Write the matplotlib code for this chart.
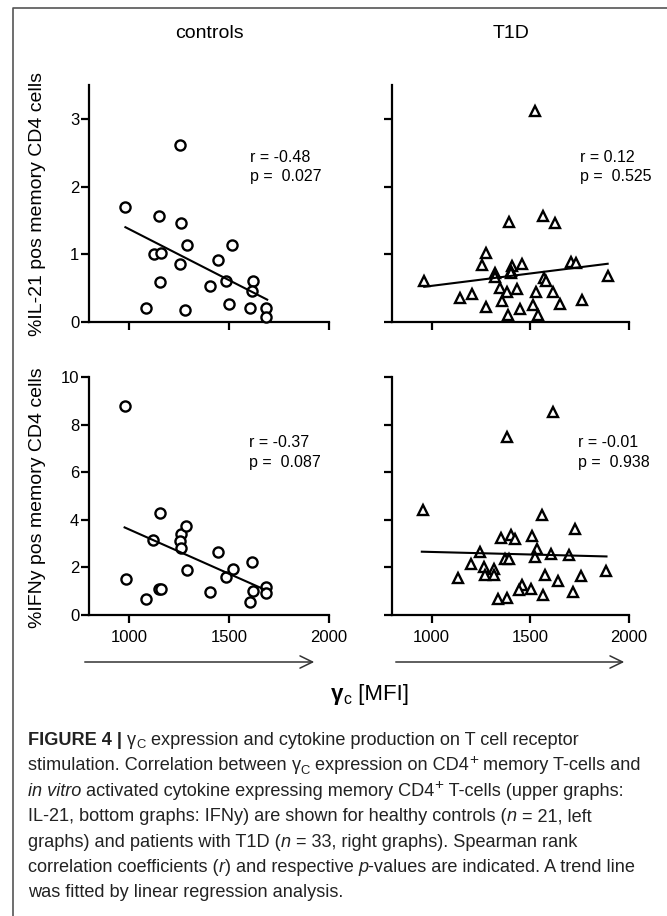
import matplotlib
matplotlib.use('Agg')
import matplotlib.pyplot as plt
from matplotlib import font_manager as fm
from matplotlib.font_manager import FontProperties
from matplotlib.lines import Line2D
from matplotlib.patches import FancyArrowPatch

# ---------------- data ----------------
col_titles = ["controls", "T1D"]
ylabels = ["%IL-21 pos memory CD4 cells", "%IFNy pos memory CD4 cells"]
xticks = [1000, 1500, 2000]
il21_yticks = [0, 1, 2, 3]
ifn_yticks = [0, 2, 4, 6, 8, 10]

ctrl_il21_x = [982, 1255, 1151, 1260, 1124, 1158, 1289, 1517, 1257, 1443, 1154,
               1404, 1485, 1621, 1616, 1087, 1282, 1498, 1604, 1686, 1686]
ctrl_il21_y = [1.70, 2.62, 1.57, 1.46, 1.00, 1.02, 1.13, 1.13, 0.86, 0.91, 0.59,
               0.53, 0.61, 0.61, 0.46, 0.20, 0.18, 0.26, 0.20, 0.21, 0.07]

t1d_il21_x = [1522, 963, 1391, 1567, 1623, 1278, 1254, 1320, 1323, 1407, 1401,
              1404, 1460, 1704, 1734, 1892, 1572, 1581, 1143, 1205, 1345, 1384,
              1431, 1530, 1614, 1274, 1359, 1650, 1764, 1387, 1449, 1515, 1539]
t1d_il21_y = [3.11, 0.60, 1.47, 1.56, 1.46, 1.02, 0.84, 0.72, 0.66, 0.82, 0.75,
              0.72, 0.85, 0.89, 0.87, 0.68, 0.65, 0.60, 0.35, 0.41, 0.50, 0.45,
              0.48, 0.45, 0.44, 0.22, 0.31, 0.27, 0.32, 0.11, 0.19, 0.25, 0.11]

ctrl_ifn_x = [982, 987, 1084, 1154, 1122, 1148, 1158, 1258, 1257, 1260, 1284,
              1290, 1403, 1443, 1483, 1519, 1617, 1621, 1606, 1686, 1686]
ctrl_ifn_y = [8.80, 1.52, 0.69, 4.27, 3.16, 1.10, 1.08, 3.41, 3.10, 2.80, 3.75,
              1.90, 0.95, 2.63, 1.58, 1.94, 2.24, 1.02, 0.53, 1.16, 0.91]

t1d_ifn_x = [1616, 1384, 958, 1557, 1727, 1350, 1402, 1421, 1510, 1536, 1246,
             1525, 1606, 1697, 1370, 1392, 1199, 1268, 1317, 1270, 1317, 1135,
             1573, 1643, 1758, 1882, 1456, 1445, 1505, 1564, 1714, 1337, 1381]
t1d_ifn_y = [8.53, 7.49, 4.40, 4.20, 3.61, 3.22, 3.36, 3.18, 3.32, 2.79, 2.63,
             2.44, 2.55, 2.53, 2.37, 2.37, 2.13, 2.03, 1.95, 1.69, 1.69, 1.54,
             1.68, 1.43, 1.64, 1.85, 1.27, 1.05, 1.08, 0.84, 0.98, 0.69, 0.73]

# trend line end points
ctrl_il21_trend_x = [982, 1691]
ctrl_il21_trend_y = [1.40, 0.33]
t1d_il21_trend_x = [963, 1892]
t1d_il21_trend_y = [0.52, 0.86]
ctrl_ifn_trend_x = [978, 1675]
ctrl_ifn_trend_y = [3.68, 1.08]
t1d_ifn_trend_x = [951, 1886]
t1d_ifn_trend_y = [2.66, 2.46]

r_values = ["-0.48", "0.12", "-0.37", "-0.01"]
p_values = ["0.027", "0.525", "0.087", "0.938"]

# ---------------- figure ----------------
W, H = 667, 916
fig = plt.figure(figsize=(W / 100, H / 100), dpi=100)
fig.patch.set_facecolor('white')
FONT = 'Liberation Sans'
plt.rcParams['font.family'] = [FONT, 'DejaVu Sans']

names = {f.name for f in fm.fontManager.ttflist}
CAP_FONT = 'Liberation Sans Narrow' if 'Liberation Sans Narrow' in names else FONT


def pos(l, t, r, b):
    return [l / W, 1 - b / H, (r - l) / W, (b - t) / H]


panels = [
    dict(rect=pos(89, 85, 329, 322), x=ctrl_il21_x, y=ctrl_il21_y, m='o',
         tx=ctrl_il21_trend_x, ty=ctrl_il21_trend_y, ylim=(0, 3.5), yt=il21_yticks,
         ylab=True, xlab=False, txt=(0.671, 0.696, 0.616), k=0),
    dict(rect=pos(392, 85, 629, 322), x=t1d_il21_x, y=t1d_il21_y, m='^',
         tx=t1d_il21_trend_x, ty=t1d_il21_trend_y, ylim=(0, 3.5), yt=il21_yticks,
         ylab=False, xlab=False, txt=(0.794, 0.696, 0.616), k=1),
    dict(rect=pos(89, 377, 329, 615), x=ctrl_ifn_x, y=ctrl_ifn_y, m='o',
         tx=ctrl_ifn_trend_x, ty=ctrl_ifn_trend_y, ylim=(0, 10), yt=ifn_yticks,
         ylab=True, xlab=True, txt=(0.667, 0.723, 0.639), k=2),
    dict(rect=pos(392, 377, 629, 615), x=t1d_ifn_x, y=t1d_ifn_y, m='^',
         tx=t1d_ifn_trend_x, ty=t1d_ifn_trend_y, ylim=(0, 10), yt=ifn_yticks,
         ylab=False, xlab=True, txt=(0.786, 0.723, 0.639), k=3),
]

for p in panels:
    ax = fig.add_axes(p['rect'])
    ax.set_facecolor('none')
    ms = 7.3 if p['m'] == 'o' else 7.0
    ax.plot(p['x'], p['y'], p['m'], ms=ms, mfc='white', mec='black', mew=1.7,
            clip_on=False, zorder=3)
    ax.plot(p['tx'], p['ty'], color='black', lw=1.5, zorder=4)
    ax.set_xlim(800, 2000)
    ax.set_ylim(*p['ylim'])
    ax.set_xticks(xticks)
    ax.set_yticks(p['yt'])
    for s in ['top', 'right']:
        ax.spines[s].set_visible(False)
    for s in ['left', 'bottom']:
        ax.spines[s].set_linewidth(1.6)
    ax.tick_params(axis='both', direction='out', length=5.5, width=1.6,
                   labelsize=12, colors='black')
    ax.tick_params(axis='y', pad=1.5)
    ax.tick_params(axis='x', pad=5)
    if not p['xlab']:
        ax.set_xticklabels([])
    if not p['ylab']:
        ax.set_yticklabels([])
    tx, ty_r, ty_p = p['txt']
    k = p['k']
    ax.text(tx, ty_r, "r = " + r_values[k], transform=ax.transAxes,
            fontsize=11.5, va='center', ha='left')
    ax.text(tx, ty_p, "p =  " + p_values[k], transform=ax.transAxes,
            fontsize=11.5, va='center', ha='left')

# y labels
fig.text(38 / W, 1 - 204 / H, ylabels[0], rotation=90, fontsize=14,
         ha='center', va='center')
fig.text(38 / W, 1 - 498 / H, ylabels[1], rotation=90, fontsize=14,
         ha='center', va='center')

# column titles
fig.text(209 / W, 1 - 33 / H, col_titles[0], fontsize=14, ha='center', va='center')
fig.text(511 / W, 1 - 33 / H, col_titles[1], fontsize=14, ha='center', va='center')

# frame (left & top)
fig.add_artist(Line2D([13.5 / W, 13.5 / W, 1.0], [0, 1 - 8 / H, 1 - 8 / H],
                      transform=fig.transFigure, color='#555555', lw=1.2))

# arrows
for x0, x1 in [(82, 317), (393, 627)]:
    yy = 1 - 662 / H
    fig.add_artist(FancyArrowPatch((x0 / W, yy), (x1 / W, yy),
                                   transform=fig.transFigure,
                                   arrowstyle='->,head_length=0.45,head_width=0.22',
                                   mutation_scale=20, lw=1.1, color='#333333'))

# ---------------- rich text helper ----------------
renderer = fig.canvas.get_renderer()


def make_fp(kind, size, family):
    fp = FontProperties(family=family, size=size)
    if kind == 'b':
        fp.set_weight('bold')
    if kind == 'i':
        fp.set_style('italic')
    if kind in ('sub', 'sup'):
        fp.set_size(size * (0.72 if kind == 'sub' else 0.85))
    return fp


def adv(s, fp):
    w1 = renderer.get_text_width_height_descent(s + '|', fp, ismath=False)[0]
    w2 = renderer.get_text_width_height_descent('|', fp, ismath=False)[0]
    return w1 - w2


def runs_width(runs, size, family):
    return sum(adv(s, make_fp(k, size, family)) for s, k in runs)


def draw_runs(x0, ybase, runs, size, family, color='black'):
    x = x0
    px = size * 100 / 72.0
    for s, k in runs:
        fp = make_fp(k, size, family)
        dy = 0
        if k == 'sub':
            dy = -0.18 * px
        elif k == 'sup':
            dy = 0.38 * px
        fig.text(x / W, 1 - (ybase - dy) / H, s, fontproperties=fp,
                 ha='left', va='baseline', color=color)
        x += adv(s, fp)


# x label  "γc [MFI]"
xl_runs = [('γ', 'b'), ('c', 'sub'), (' [MFI]', 'n')]
xl_w = runs_width(xl_runs, 16, [FONT, 'DejaVu Sans'])
draw_runs(370 - xl_w / 2, 700, xl_runs, 16, [FONT, 'DejaVu Sans'])

# caption
caption = [
    [('FIGURE 4 | ', 'b'), ('γ', 'n'), ('C', 'sub'),
     (' expression and cytokine production on T cell receptor', 'n')],
    [('stimulation. Correlation between ', 'n'), ('γ', 'n'), ('C', 'sub'),
     (' expression on CD4', 'n'), ('+', 'sup'), (' memory T-cells and', 'n')],
    [('in vitro', 'i'), (' activated cytokine expressing memory CD4', 'n'),
     ('+', 'sup'), (' T-cells (upper graphs:', 'n')],
    [('IL-21, bottom graphs: IFNy) are shown for healthy controls (', 'n'),
     ('n', 'i'), (' = 21, left', 'n')],
    [('graphs) and patients with T1D (', 'n'), ('n', 'i'),
     (' = 33, right graphs). Spearman rank', 'n')],
    [('correlation coefficients (', 'n'), ('r', 'i'), (') and respective ', 'n'),
     ('p', 'i'), ('-values are indicated. A trend line', 'n')],
    [('was fitted by linear regression analysis.', 'n')],
]
cap_family = [CAP_FONT, 'DejaVu Sans']
w12 = runs_width(caption[1], 12, cap_family)
cap_size = 12 * (641 - 28) / w12
for i, line in enumerate(caption):
    draw_runs(28, 745 + 25.4 * i, line, cap_size, cap_family, color='#222222')

fig.savefig('out.png', dpi=100)
